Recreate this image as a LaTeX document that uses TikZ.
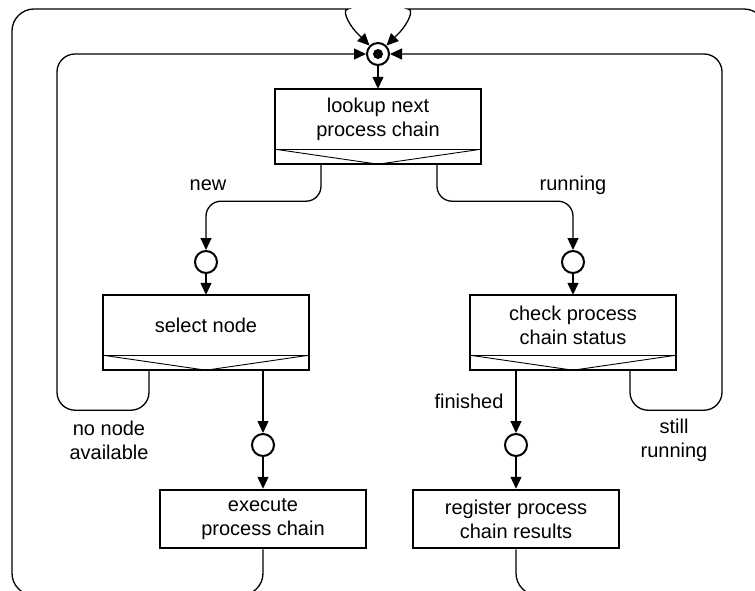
\documentclass[tikz,border=0pt]{standalone}
\usepackage{fontspec}
\setmainfont{Liberation Sans}
\usetikzlibrary{arrows.meta}
\begin{document}
\begin{tikzpicture}[x=1pt,y=-1pt,
  font=\fontsize{20}{24}\selectfont,
  upper/.style={minimum width=206pt, minimum height=60pt, inner sep=0pt, align=center},
  plainbox/.style={draw, line width=2.5pt, minimum width=206pt, minimum height=58pt, inner sep=0pt, align=center},
  frame/.style={line width=2.5pt},
  divider/.style={line width=0.9pt},
  conn/.style={line width=1.3pt},
  arr/.style={conn, -{Triangle[length=12pt,width=11pt]}},
  state/.style={circle, draw, line width=2pt, minimum size=22pt, inner sep=0pt},
  lbl/.style={align=center, inner sep=0pt}
]
\useasboundingbox (0,0) rectangle (755,591);
\clip (0,0) rectangle (755,591);

% junction
\node[state] (jn) at (378,54) {};
\node[circle, fill, minimum size=10pt, inner sep=0pt] (jdot) at (jn) {};

% decision boxes: text part plus the strip with the V below it
\node[upper] (lookup) at (378,119) {lookup next\\process chain};
\node[upper] (sel) at (206,325) {select node};
\node[upper] (chk) at (573,325) {check process\\chain status};
\foreach \b in {lookup,sel,chk}{
  \draw[divider] (\b.south west) -- (\b.south east);
  \draw[divider] (\b.south west) -- ([yshift=-15pt]\b.south) -- (\b.south east);
  \draw[frame] (\b.north west) rectangle ([yshift=-15pt]\b.south east);
}

% exits of the decision boxes
\coordinate (lookupL) at ([xshift=-57pt,yshift=-15pt]lookup.south);
\coordinate (lookupR) at ([xshift=59pt,yshift=-15pt]lookup.south);
\coordinate (selL) at ([xshift=-57pt,yshift=-15pt]sel.south);
\coordinate (selR) at ([xshift=57pt,yshift=-15pt]sel.south);
\coordinate (chkL) at ([xshift=-57pt,yshift=-15pt]chk.south);
\coordinate (chkR) at ([xshift=57pt,yshift=-15pt]chk.south);

% states
\node[state] (c1) at (206,262) {};
\node[state] (c2) at (573,262) {};
\node[state] (c3) at (263,445) {};
\node[state] (c4) at (516,445) {};

% action boxes
\node[plainbox] (exe) at (263,519) {execute\\process chain};
\node[plainbox] (reg) at (516,519) {register process\\chain results};

% flow
\draw[arr] (jn) -- (lookup.north);
\draw[arr, rounded corners=15pt] (lookupL) -- ++(0,37) -| (c1);
\draw[arr, rounded corners=15pt] (lookupR) -- ++(0,37) -| (c2);
\draw[arr] (c1) -- (sel.north);
\draw[arr] (c2) -- (chk.north);
\draw[arr] (selR) -- (c3);
\draw[arr] (c3) -- (exe.north);
\draw[arr] (chkL) -- (c4);
\draw[arr] (c4) -- (reg.north);

% inner loops back to the junction
\draw[arr, rounded corners=18pt] (selL) -- ++(0,40) -- ++(-92,0) |- (jn);
\draw[arr, rounded corners=18pt] (chkR) -- ++(0,40) -- ++(92,0) |- (jn);

% outer loops back to the junction
\draw[arr, rounded corners=22pt] (exe.south) -- ++(0,46) -| (12,9) -- (326,9)
  [sharp corners] .. controls (342,9) and (347,22) .. (356,32) -- (jn.north west);
\draw[arr, rounded corners=22pt] (reg.south) -- ++(0,46) -| (766,9) -- (430,9)
  [sharp corners] .. controls (414,9) and (409,22) .. (400,32) -- (jn.north east);

% labels
\node[lbl] (lnew) at (208,185) {new};
\node[lbl] (lrun) at (573,185) {running};
\node[lbl] (lfin) at (469,401) {finished};
\node[lbl] (lnna) at (109,440) {no node\\available};
\node[lbl] (lstill) at (674,440) {still\\running};
\end{tikzpicture}
\end{document}
